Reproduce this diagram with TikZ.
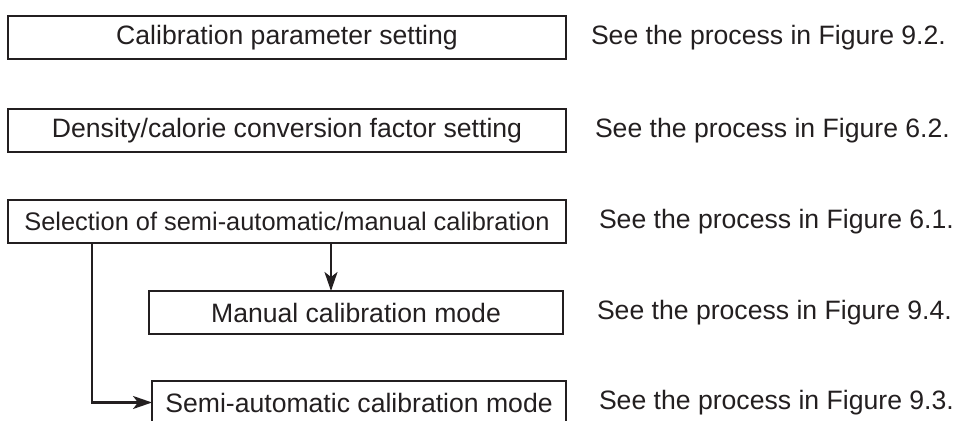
\documentclass[tikz,border=0pt]{standalone}
\usepackage{fontspec}
\setmainfont{Liberation Sans}
\usepackage{xcolor}
\usetikzlibrary{arrows.meta,positioning}
\definecolor{ink}{RGB}{35,31,32}

\begin{document}
\begin{tikzpicture}[
  font=\fontsize{13.3}{16}\selectfont,
  box/.style={draw=ink, line width=1.1pt, text=ink, minimum width=279pt, minimum height=21.5pt, inner sep=0pt, outer sep=0pt},
  sub/.style={box, minimum width=207pt},
  note/.style={text=ink, inner sep=0pt, font=\fontsize{13.3}{16}\selectfont},
  arr/.style={-{Stealth[length=9.5pt, width=6.5pt, inset=2.5pt]}, line width=1.1pt, ink},
]
\useasboundingbox (0,0) rectangle (477.5pt,-210.5pt);
\node[box, anchor=north west] (calib) at (4pt,-8pt) {Calibration parameter setting};
\node[box, below right=25pt and 0pt of calib.south west] (dens) {Density/calorie conversion factor setting};
\node[box, below right=24pt and 0pt of dens.south west, font=\fontsize{12.7}{15}\selectfont] (sel) {Selection of semi-automatic/manual calibration};
\node[sub, below right=24pt and 70.5pt of sel.south west] (man) {Manual calibration mode};
\node[sub, below right=23.5pt and 1.5pt of man.south west] (semi) {Semi-automatic calibration mode};
\node[note, right=12.3pt of calib] (ncalib) {See the process in Figure 9.2.};
\node[note, right=14.3pt of dens] (ndens) {See the process in Figure 6.2.};
\node[note, right=16.3pt of sel] (nsel) {See the process in Figure 6.1.};
\node[note, right=16.8pt of man] (nman) {See the process in Figure 9.4.};
\node[note, right=16.3pt of semi] (nsemi) {See the process in Figure 9.3.};
\coordinate (tapman) at ([xshift=161.5pt]sel.south west);
\coordinate (tapsemi) at ([xshift=42pt]sel.south west);
\draw[arr] (tapman) -- (tapman |- man.north);
\draw[arr] (tapsemi) |- (semi.west);
\end{tikzpicture}
\end{document}
